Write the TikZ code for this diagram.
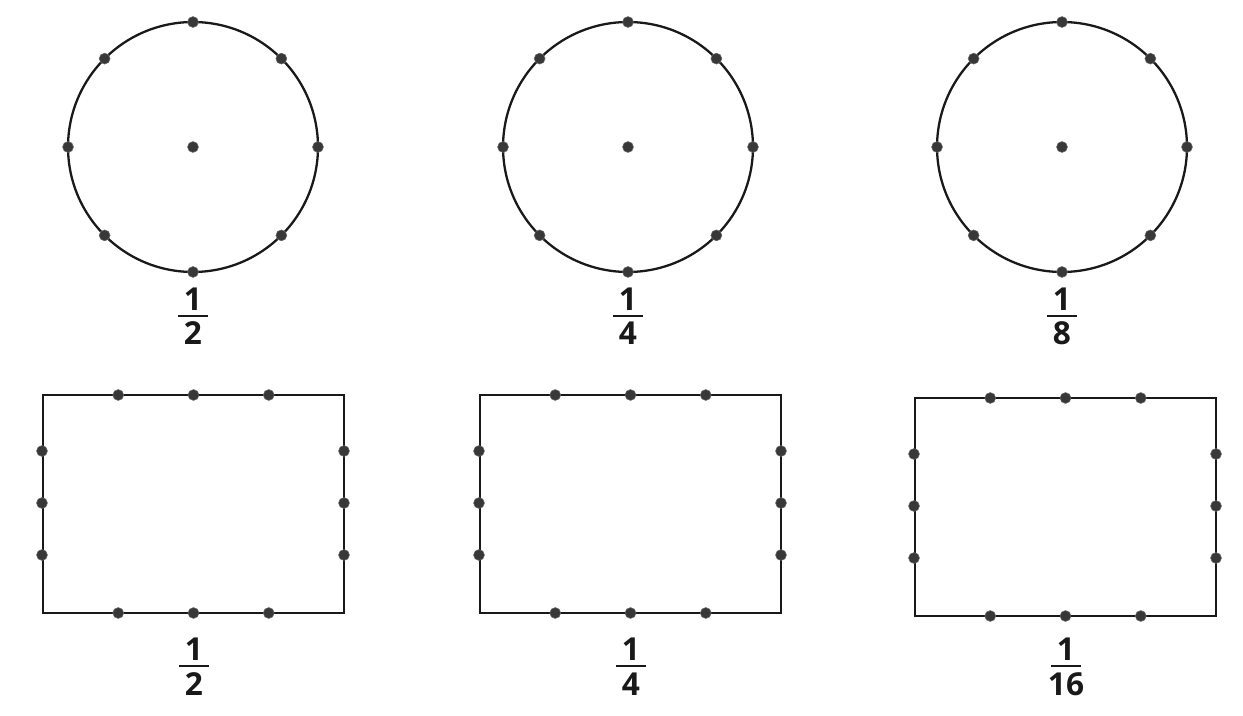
\documentclass[tikz,border=0pt]{standalone}
\usepackage{fontspec}
\setmainfont{Open Sans}
\usetikzlibrary{calc}
\begin{document}
\begin{tikzpicture}[x=0.02cm,y=-0.02cm,
  shape line/.style={line width=1.3pt,black!90},
  pt/.style={circle,fill=black!78,draw=black!60,line width=0.3pt,inner sep=0pt,minimum size=6.2pt},
  fracnum/.style={font=\fontsize{18}{20}\selectfont\bfseries,inner sep=0pt,text=black!90},
  fracbar/.style={line width=1.1pt,black!90}]
\useasboundingbox[fill=white] (0,0) rectangle (1243,716);
% ---------- circles ----------
\foreach \cx/\lab/\n in {193/c1/2, 628/c2/4, 1062/c3/8}{
  \draw[shape line] (\cx,147) circle[radius=2.5cm];
  \node[pt] (\lab-o) at (\cx,147) {};
  \foreach \a in {0,45,...,315}{
    \node[pt] (\lab-\a) at ($(\cx,147)+(\a:2.5cm)$) {};
  }
  \node[fracnum] (\lab-num) at (\cx,299) {1};
  \node[fracnum] (\lab-den) at (\cx,333) {\n};
  \coordinate (\lab-bl) at (\cx-15,316);
  \coordinate (\lab-br) at (\cx+15,316);
  \draw[fracbar] (\lab-bl) -- (\lab-br);
}
% ---------- rectangles ----------
\foreach \x/\y/\lab/\n in {43/395/r1/2, 480/395/r2/4, 915/398/r3/16}{
  \coordinate (\lab-nw) at (\x,\y);
  \coordinate (\lab-se) at (\x+301,\y+218);
  \draw[shape line] (\lab-nw) rectangle (\lab-se);
  \foreach \i/\f in {1/0.25,2/0.5,3/0.75}{
    \node[pt] (\lab-t\i) at (\x+301*\f,\y) {};
    \node[pt] (\lab-b\i) at (\x+301*\f,\y+218) {};
    \node[pt] (\lab-l\i) at (\x-1,\y+56+52*\i-52) {};
    \node[pt] (\lab-r\i) at (\x+301,\y+56+52*\i-52) {};
  }
  \node[fracnum] (\lab-num) at (\x+151,649) {1};
  \node[fracnum] (\lab-den) at (\x+151,684) {\n};
  \coordinate (\lab-bl) at (\x+151-15,666);
  \coordinate (\lab-br) at (\x+151+15,666);
  \draw[fracbar] (\lab-bl) -- (\lab-br);
}
\end{tikzpicture}
\end{document}
